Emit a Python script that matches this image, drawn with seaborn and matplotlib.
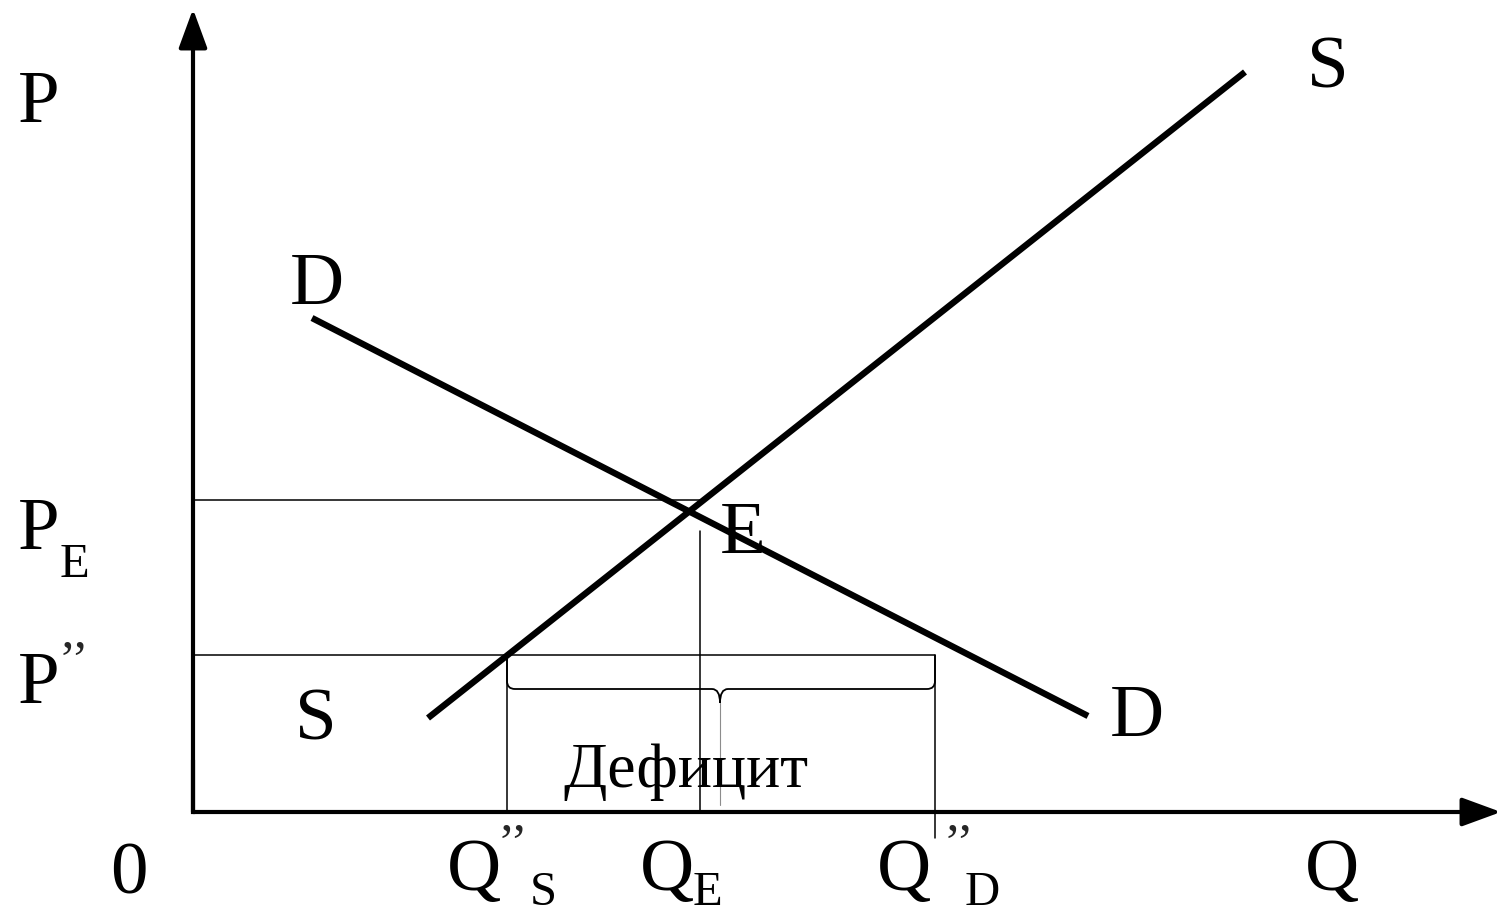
import matplotlib
matplotlib.use("Agg")
import matplotlib.pyplot as plt
from matplotlib.path import Path
from matplotlib.patches import PathPatch
import seaborn as sns
import pandas as pd

# curve end points (Q, P)
supply_q = [2.35, 10.52]
supply_p = [0.94, 7.40]
demand_q = [1.19, 8.95]
demand_p = [4.94, 0.96]

# equilibrium and price ceiling levels
p_e = 3.12
q_e = 5.07
q_e_top = 2.81
p_low = 1.57
q_s_low = 3.14
q_d_low = 7.42
q_d_drop = -0.26
brace_mid = 5.27
brace_low = 1.23

q_axis_end = 13.08
p_axis_end = 8.0

sns.set_style("white")
plt.rcParams["font.family"] = ["Liberation Serif", "DejaVu Serif"]

fig = plt.figure(figsize=(15.03, 9.16), dpi=100)
ax = fig.add_axes([0, 0, 1, 1])
ax.set_xlim(-1.93, 13.10)
ax.set_ylim(-1.04, 8.12)
ax.axis("off")

# axes with arrows
arrow = dict(arrowstyle="-|>,head_length=0.6,head_width=0.22", color="black",
             lw=3, shrinkA=0, shrinkB=0, mutation_scale=40)
ax.annotate("", xy=(0, p_axis_end + 0.03), xytext=(0, 0), arrowprops=arrow)
ax.annotate("", xy=(q_axis_end, 0), xytext=(0, 0), arrowprops=arrow)
ax.plot([0, 0], [0, 0.5], color="black", lw=3, solid_capstyle="projecting")

# guide lines
thin = dict(color="black", lw=1.1)
ax.plot([0, q_e], [p_e, p_e], **thin)
ax.plot([q_e, q_e], [0, q_e_top], **thin)
ax.plot([0, q_d_low], [p_low, p_low], **thin)
ax.plot([q_s_low, q_s_low], [0, p_low], **thin)
ax.plot([q_d_low, q_d_low], [q_d_drop, p_low], **thin)

# supply and demand
lines = pd.DataFrame({
    "Q": supply_q + demand_q,
    "P": supply_p + demand_p,
    "curve": ["S", "S", "D", "D"],
})
sns.lineplot(data=lines, x="Q", y="P", units="curve", estimator=None,
             color="black", lw=4.6, sort=False, legend=False, ax=ax,
             solid_capstyle="butt")

# curly brace for the shortage
r = 0.08
tip = brace_low - 0.14
verts = [
    (q_s_low, p_low), (q_s_low, brace_low + r), (q_s_low, brace_low), (q_s_low + r, brace_low),
    (brace_mid - r, brace_low), (brace_mid, brace_low), (brace_mid, tip),
    (brace_mid, brace_low), (brace_mid + r, brace_low),
    (q_d_low - r, brace_low), (q_d_low, brace_low), (q_d_low, brace_low + r), (q_d_low, p_low),
]
codes = [Path.MOVETO, Path.LINETO, Path.CURVE3, Path.CURVE3,
         Path.LINETO, Path.CURVE3, Path.CURVE3,
         Path.CURVE3, Path.CURVE3,
         Path.LINETO, Path.CURVE3, Path.CURVE3, Path.LINETO]
ax.add_patch(PathPatch(Path(verts, codes), fill=False, lw=1.3, color="black"))
ax.plot([brace_mid, brace_mid], [0.07, tip], color="0.55", lw=0.8)

big = 54
small = 35
txt = dict(ha="left", va="baseline", color="black")
ax.text(-1.75, 6.90, "P", fontsize=big, **txt)
ax.text(-1.75, 2.63, "P", fontsize=big, **txt)
ax.text(-1.33, 2.35, "E", fontsize=small, **txt)
ax.text(-1.75, 1.09, "P", fontsize=big, **txt)
ax.text(-1.34, 1.73, "\u2019\u2019", fontsize=small + 2, ha="left", va="top")
ax.text(-0.83, -0.81, "0", fontsize=big, **txt)

ax.text(2.54, -0.78, "Q", fontsize=big, **txt)
ax.text(3.04, -0.10, "\u2019\u2019", fontsize=small + 2, ha="left", va="top")
ax.text(3.37, -0.93, "S", fontsize=small, **txt)
ax.text(4.47, -0.78, "Q", fontsize=big, **txt)
ax.text(5.00, -0.93, "E", fontsize=small, **txt)
ax.text(6.84, -0.78, "Q", fontsize=big, **txt)
ax.text(7.50, -0.10, "\u2019\u2019", fontsize=small + 2, ha="left", va="top")
ax.text(7.72, -0.93, "D", fontsize=small, **txt)
ax.text(11.12, -0.78, "Q", fontsize=big, **txt)

ax.text(11.14, 7.24, "S", fontsize=big, **txt)
ax.text(0.97, 5.08, "D", fontsize=big, **txt)
ax.text(5.27, 2.59, "E", fontsize=big, **txt)
ax.text(1.02, 0.72, "S", fontsize=big, **txt)
ax.text(9.17, 0.76, "D", fontsize=big, **txt)
ax.text(3.70, 0.25, "Дефицит", fontsize=46, **txt)

fig.savefig("out.png", dpi=100)
